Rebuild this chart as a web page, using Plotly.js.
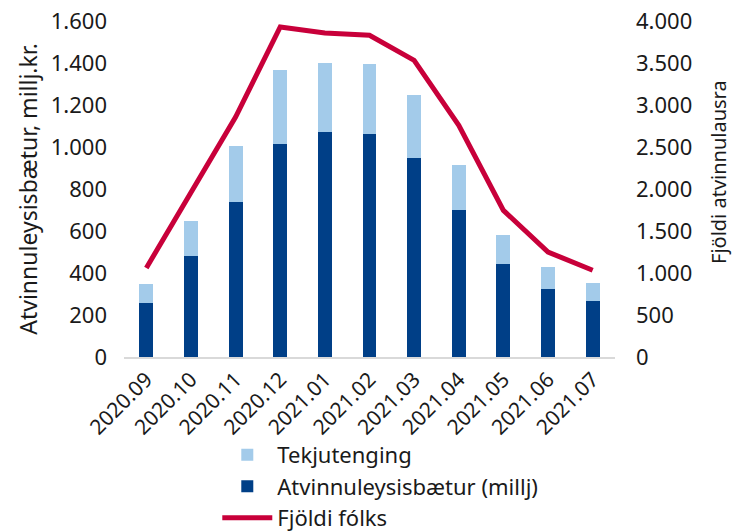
<!DOCTYPE html>
<html>
<head>
<meta charset="utf-8">
<script src="https://cdn.plot.ly/plotly-3.0.1.min.js"></script>
<style>
  html, body { margin: 0; padding: 0; background: #fff; }
  #chart { width: 733px; height: 531px; }
</style>
</head>
<body>
<div id="chart"></div>
<script>
// months on the x axis
const months = ['2020.09', '2020.10', '2020.11', '2020.12', '2021.01', '2021.02',
	'2021.03', '2021.04', '2021.05', '2021.06', '2021.07'];

// millj. kr. (left axis)
const benefits = [256, 480, 737, 1013, 1070, 1060, 950, 700, 441, 326, 265];
const incomeLinked = [90, 166, 270, 352, 332, 337, 296, 213, 139, 103, 87];

// number of people (right axis)
const people = [1060, 1961, 2857, 3929, 3857, 3830, 3532, 2758, 1746, 1250, 1032];

const fontFamily = '"Noto Sans", "Open Sans", sans-serif';
const textColor = '#1a1a1a';

const data = [
	{
		type: 'bar',
		name: 'Atvinnuleysisbætur (millj)',
		x: months,
		y: benefits,
		marker: { color: '#003f87' },
		legendrank: 2,
	},
	{
		type: 'bar',
		name: 'Tekjutenging',
		x: months,
		y: incomeLinked,
		marker: { color: '#a3cbea' },
		legendrank: 1,
	},
	{
		type: 'scatter',
		mode: 'lines',
		name: 'Fjöldi fólks',
		x: months,
		y: people,
		yaxis: 'y2',
		line: { color: '#c8003a', width: 5 },
		legendrank: 3,
	},
];

const layout = {
	width: 733,
	height: 531,
	margin: { l: 124, r: 118, t: 21, b: 174 },
	paper_bgcolor: '#fff',
	plot_bgcolor: '#fff',
	font: { family: fontFamily, size: 21, color: textColor },
	barmode: 'stack',
	bargap: 0.69,
	showlegend: true,
	legend: {
		xref: 'paper',
		yref: 'container',
		x: 0.19,
		y: 0.183,
		xanchor: 'left',
		yanchor: 'top',
		traceorder: 'normal',
		font: { size: 22, color: textColor },
		itemwidth: 50,
		tracegroupgap: 0,
		bgcolor: 'rgba(0,0,0,0)',
	},
	xaxis: {
		type: 'category',
		automargin: false,
		tickangle: -45,
		showgrid: false,
		showline: true,
		linecolor: '#d9d9d9',
		linewidth: 2,
		ticks: '',
		tickfont: { size: 21 },
	},
	yaxis: {
		automargin: false,
		range: [0, 1600],
		dtick: 200,
		showgrid: false,
		zeroline: false,
		showline: false,
		tickformat: ',d',
		ticks: '',
		ticklabelstandoff: 16,
		tickfont: { size: 22 },
		title: { text: 'Atvinnuleysisbætur, millj.kr.', font: { size: 23 }, standoff: 6 },
	},
	yaxis2: {
		automargin: false,
		overlaying: 'y',
		side: 'right',
		range: [0, 4000],
		dtick: 500,
		showgrid: false,
		zeroline: false,
		showline: false,
		tickformat: ',d',
		ticks: '',
		ticklabelstandoff: 20,
		tickfont: { size: 22 },
	},
	annotations: [{
		text: 'Fjöldi atvinnulausra',
		textangle: -90,
		xref: 'paper',
		yref: 'paper',
		x: 1 + (718 - 615) / 491,
		y: (357 - 172) / 336,
		xanchor: 'center',
		yanchor: 'middle',
		showarrow: false,
		font: { size: 20, color: textColor },
	}],
	separators: ',.',
};

Plotly.newPlot('chart', data, layout, { displayModeBar: false, staticPlot: true });
</script>
</body>
</html>
